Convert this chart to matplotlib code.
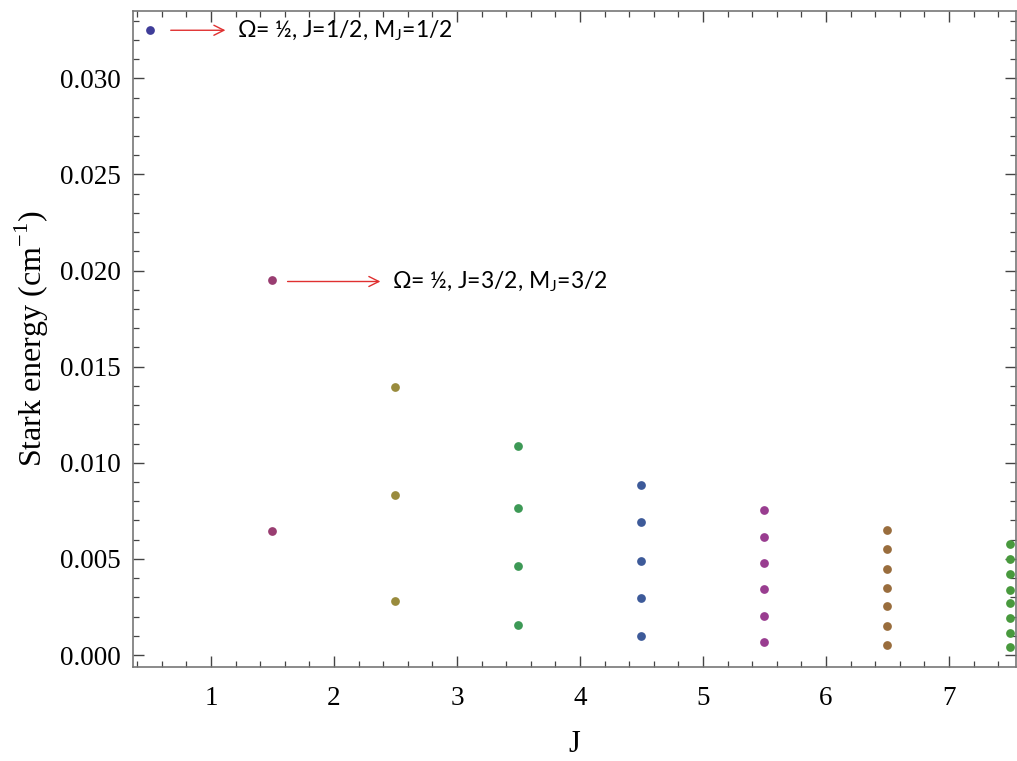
import numpy as np
import matplotlib.pyplot as plt
from matplotlib.ticker import MultipleLocator

# Stark energy levels, one list per J value
J_values = [0.5, 1.5, 2.5, 3.5, 4.5, 5.5, 6.5, 7.5]
energy_j05 = [0.0325]
energy_j15 = [0.0195, 0.00646]
energy_j25 = [0.01396, 0.00833, 0.00281]
energy_j35 = [0.01089, 0.00766, 0.00464, 0.00156]
energy_j45 = [0.00885, 0.00693, 0.0049, 0.00297, 0.00099]
energy_j55 = [0.00755, 0.00615, 0.00479, 0.00344, 0.00203, 0.00068]
energy_j65 = [0.00651, 0.00552, 0.00448, 0.00349, 0.00255, 0.00151, 0.00052]
energy_j75 = [0.00578, 0.0050, 0.00422, 0.00339, 0.00271, 0.00193, 0.00115, 0.00042]
energies = [energy_j05, energy_j15, energy_j25, energy_j35,
            energy_j45, energy_j55, energy_j65, energy_j75]

# Mathematica-like default palette
colors = [(0.247, 0.24, 0.6), (0.6, 0.24, 0.443), (0.6, 0.547, 0.24),
          (0.24, 0.6, 0.337), (0.24, 0.353, 0.6), (0.6, 0.24, 0.563),
          (0.6, 0.426, 0.24), (0.284, 0.6, 0.24)]

fig = plt.figure(figsize=(10.17, 7.61), dpi=100)
ax = fig.add_axes([0.1308, 0.1235, 0.8682, 0.862])

for j, e, c in zip(J_values, energies, colors):
    ax.plot([j] * len(e), e, 'o', color=c, ms=6.3, mec='none')

ax.set_xlim(0.366, 7.545)
ax.set_ylim(-0.000625, 0.0335)

ax.xaxis.set_major_locator(MultipleLocator(1))
ax.xaxis.set_minor_locator(MultipleLocator(0.2))
ax.yaxis.set_major_locator(MultipleLocator(0.005))
ax.yaxis.set_minor_locator(MultipleLocator(0.001))
ax.yaxis.set_major_formatter(plt.FormatStrFormatter('%.3f'))

frame_col = '#777777'
for s in ax.spines.values():
    s.set_color(frame_col)
    s.set_linewidth(1.2)
ax.tick_params(which='both', direction='in', top=True, right=True, color='#444444')
ax.tick_params(which='major', length=8, width=1.0, labelsize=19.5)
ax.tick_params(axis='y', which='major', pad=9)
ax.tick_params(axis='x', which='major', pad=14)
ax.tick_params(which='minor', length=4.5, width=0.9)
for lbl in ax.get_xticklabels() + ax.get_yticklabels():
    lbl.set_family('Liberation Serif')

ax.set_ylabel('Stark energy (cm$^{\\mathregular{-1}}$)', family='Liberation Serif', fontsize=23, labelpad=6)
ax.set_xlabel('J', family='Liberation Serif', fontsize=22, labelpad=13)

# arrows pointing at the labelled levels
arrow_col = '#e03030'
ax.annotate('', xy=(1.14, 0.0325), xytext=(0.65, 0.0325),
            arrowprops=dict(arrowstyle='->', color=arrow_col, lw=1.0, mutation_scale=18))
ax.text(1.21, 0.0325, '\u03a9= \u00bd, J=1/2, M$_\\mathregular{J}$=1/2', family='Lato',
        fontsize=16.5, va='center', ha='left')
ax.annotate('', xy=(2.40, 0.01943), xytext=(1.60, 0.01943),
            arrowprops=dict(arrowstyle='->', color=arrow_col, lw=1.0, mutation_scale=18))
ax.text(2.47, 0.01943, '\u03a9= \u00bd, J=3/2, M$_\\mathregular{J}$=3/2', family='Lato',
        fontsize=16.5, va='center', ha='left')

fig.savefig('out.png', dpi=100)
